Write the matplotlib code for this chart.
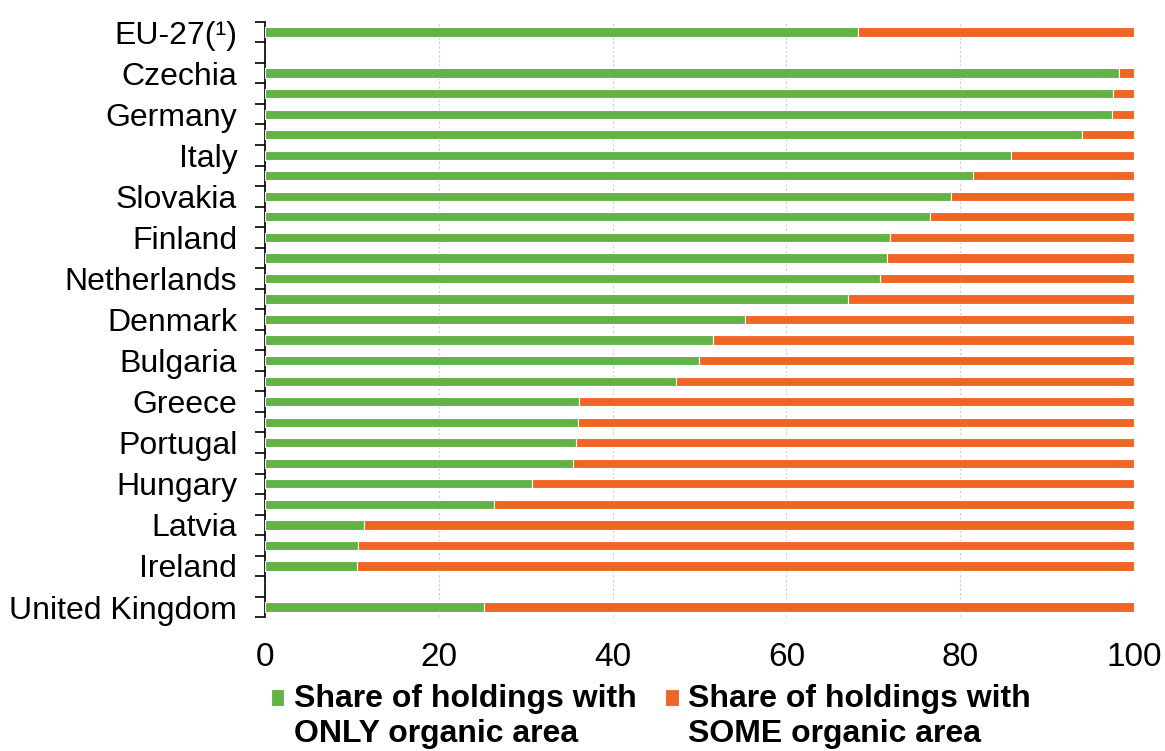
import numpy as np
import matplotlib.pyplot as plt
from matplotlib.ticker import FixedLocator

plt.rcParams['font.family'] = ['Liberation Sans', 'DejaVu Sans']

# Data
countries = ['EU-27(¹)', 'Czechia', 'Austria', 'Germany', 'Slovenia', 'Italy', 'Spain',
             'Slovakia', 'France', 'Finland', 'Sweden', 'Netherlands', 'Belgium',
             'Denmark', 'Croatia', 'Bulgaria', 'Romania', 'Greece', 'Cyprus',
             'Portugal', 'Lithuania', 'Hungary', 'Poland', 'Latvia', 'Estonia',
             'Ireland', 'United Kingdom']
only_organic = [68.2, 98.3, 97.6, 97.5, 94.0, 85.8, 81.5, 78.9, 76.5, 71.9, 71.6,
                70.8, 67.1, 55.2, 51.6, 49.9, 47.3, 36.1, 36.0, 35.8, 35.4, 30.7,
                26.4, 11.4, 10.7, 10.6, 25.2]
some_organic = [31.8, 1.7, 2.4, 2.5, 6.0, 14.2, 18.5, 21.1, 23.5, 28.1, 28.4,
                29.2, 32.9, 44.8, 48.4, 50.1, 52.7, 63.9, 64.0, 64.2, 64.6, 69.3,
                73.6, 88.6, 89.3, 89.4, 74.8]

# one empty row after EU-27 and before the United Kingdom
pos = np.array([0] + list(range(2, 27)) + [28])

green = '#62b246'
orange = '#f16524'

fig, ax = plt.subplots(figsize=(11.65, 7.51), dpi=100)
fig.subplots_adjust(left=0.2275, right=0.9735, top=0.971, bottom=0.178)

ax.barh(pos, only_organic, height=0.45, color=green, edgecolor='white', linewidth=0.8,
        label='Share of holdings with\nONLY organic area', zorder=3)
ax.barh(pos, some_organic, left=only_organic, height=0.45, color=orange,
        edgecolor='white', linewidth=0.8,
        label='Share of holdings with\nSOME organic area', zorder=3)

ax.set_ylim(28.5, -0.5)
ax.set_xlim(0, 100)

# labels on every other row, tick marks at row boundaries
shown = [i for i in range(len(pos)) if pos[i] % 2 == 0]
ax.set_yticks(pos[shown])
ax.set_yticklabels([countries[i] for i in shown], fontsize=23)
ax.yaxis.set_minor_locator(FixedLocator(np.arange(-0.5, 29, 1)))
ax.tick_params(axis='y', which='major', length=0, pad=20)
ax.tick_params(axis='y', which='minor', length=7, width=1.2, direction='out')

ax.set_xticks([0, 20, 40, 60, 80, 100])
ax.tick_params(axis='x', length=0, labelsize=24, pad=18)
ax.grid(axis='x', color='#cccccc', linestyle=(0, (2, 2)), linewidth=0.8, zorder=0)

for s in ['top', 'right', 'bottom']:
    ax.spines[s].set_visible(False)
ax.spines['left'].set_linewidth(1.2)

leg = ax.legend(loc='upper left', bbox_to_anchor=(-0.008, -0.091), ncol=2, frameon=False,
                prop={'weight': 'bold', 'size': 23}, handlelength=0.42, handleheight=0.42,
                handletextpad=0.3, columnspacing=0.9, borderaxespad=0, labelspacing=0.2)
# put the square markers level with the first text line
for p in leg.get_patches():
    p.set_y(p.get_y() + 14)

plt.savefig('out.png', dpi=100)
